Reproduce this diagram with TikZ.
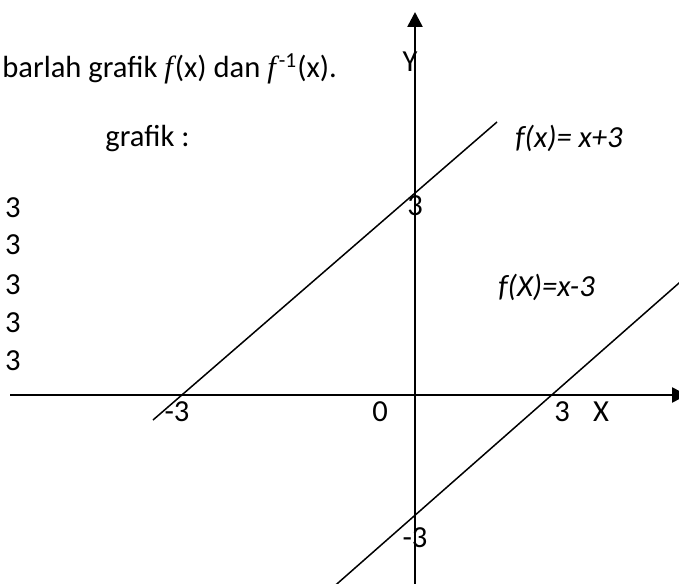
\documentclass[tikz,border=0pt]{standalone}
\usepackage{fontspec}
\setmainfont{Carlito}
\newfontfamily\ffont{Liberation Serif}
\usetikzlibrary{arrows.meta}
\tikzset{
	grafAxis/.style={
		line width=1.3pt,
		-{Triangle[length=7.5pt,width=7.5pt]}
	},
	grafLine/.style={line width=0.75pt},
	grafText/.style={
		inner sep=0pt,
		font=\fontsize{15.3}{18}\selectfont
	},
	grafFn/.style={grafText, font=\fontsize{15.3}{18}\selectfont\itshape}
}

\begin{document}
\begin{tikzpicture}[x=0.5pt, y=-0.5pt]

	\useasboundingbox (0,0) rectangle (679,583);
	\clip (0,0) rectangle (679,583);

	% Axes
	\coordinate (xstart) at (10,395);
	\coordinate (xend) at (687,395);
	\coordinate (ystart) at (415,590);
	\coordinate (yend) at (415,12);
	\draw[grafAxis] (xstart) -- (xend);
	\draw[grafAxis] (ystart) -- (yend);

	% Graphs
	\coordinate (fa) at (153,420);
	\coordinate (fb) at (497,122);
	\coordinate (ga) at (330,590);
	\coordinate (gb) at (687,276);
	\draw[grafLine] (fa) -- (fb);
	\draw[grafLine] (ga) -- (gb);

	% Texts
	\node[grafText, anchor=base west] (title) at (2,78)
	{barlah grafik {\ffont\itshape f}\kern1pt(x) dan {\ffont\itshape f}\kern1.5pt\textsuperscript{-1}(x).};
	\node[grafText] (ylabel) at (410,62) {Y};
	\node[grafText, anchor=base west] (grafik) at (105,147) {grafik :};
	\node[grafFn, anchor=base west] (fplus) at (515,148) {f(x)= x+3};
	\node[grafFn, anchor=base west] (fminus) at (498,296) {f(X)=x-3};

	% Axis numbers
	\node[grafText] (ythree) at (415,206) {3};
	\node[grafText] (xmthree) at (177,412) {-3};
	\node[grafText] (zero) at (380,412) {0};
	\node[grafText] (xthree) at (562,412) {3};
	\node[grafText] (xlabel) at (601,412) {X};
	\node[grafText] (ymthree) at (415,538) {-3};

	% Left column
	\node[grafText] (la) at (13,208) {3};
	\node[grafText] (lb) at (13,245) {3};
	\node[grafText] (lc) at (13,285) {3};
	\node[grafText] (ld) at (13,323) {3};
	\node[grafText] (le) at (13,361) {3};

\end{tikzpicture}
\end{document}
